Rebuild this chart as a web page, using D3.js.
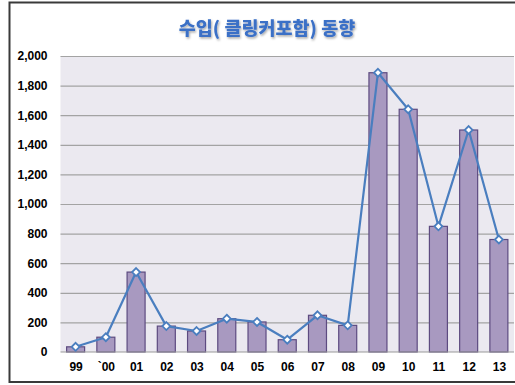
<!DOCTYPE html>
<html>
<head>
<meta charset="utf-8">
<script src="https://cdn.jsdelivr.net/npm/d3@7"></script>
<style>
  html, body { margin: 0; padding: 0; background: #fff; }
  svg { display: block; }
</style>
</head>
<body>
<svg id="chart" width="515" height="385"></svg>
<script>
// Import volumes by year (clinker included)
const years = ["99", "`00", "01", "02", "03", "04", "05", "06", "07", "08", "09", "10", "11", "12", "13"];
const barValues = [35, 100, 540, 175, 142, 225, 203, 83, 248, 180, 1887, 1640, 849, 1500, 760];
const lineValues = [35, 100, 540, 175, 142, 225, 203, 83, 248, 180, 1887, 1640, 849, 1500, 760];
const yTicks = [0, 200, 400, 600, 800, 1000, 1200, 1400, 1600, 1800, 2000];
const titleText = "수입( 클링커포함) 동향";

const svg = d3.select("#chart");
const plot = { left: 60.5, right: 514, top: 56, bottom: 352 };

// outer frame
svg.append("rect")
  .attr("x", 9.5).attr("y", 2.5)
  .attr("width", 520).attr("height", 379.5)
  .attr("fill", "#fff").attr("stroke", "#3a3a3a").attr("stroke-width", 2);

// title with soft shadow
const defs = svg.append("defs");
const f = defs.append("filter").attr("id", "shadow").attr("x", "-10%").attr("y", "-30%").attr("width", "120%").attr("height", "160%");
f.append("feDropShadow").attr("dx", 1).attr("dy", 1.5).attr("stdDeviation", 1).attr("flood-color", "#000").attr("flood-opacity", 0.35);

svg.append("text")
  .attr("x", 267).attr("y", 35)
  .attr("text-anchor", "middle")
  .attr("font-family", "'Noto Sans CJK KR', sans-serif")
  .attr("font-weight", 900)
  .attr("font-size", 18.5)
  .attr("fill", "#3a6fc6")
  .attr("filter", "url(#shadow)")
  .text(titleText);

const xc = d3.scalePoint().domain(years).range([plot.left, plot.right]).padding(0.5);
const y = d3.scaleLinear().domain([0, 2000]).range([plot.bottom, plot.top]);

// plot background
svg.append("rect")
  .attr("x", plot.left).attr("y", plot.top)
  .attr("width", plot.right - plot.left).attr("height", plot.bottom - plot.top)
  .attr("fill", "#ebe9f0");

// gridlines
svg.append("g")
  .attr("transform", `translate(${plot.left},0)`)
  .call(d3.axisLeft(y).tickValues(yTicks.filter(t => t > 0)).tickSize(-(plot.right - plot.left)).tickFormat(""))
  .call(g => g.select(".domain").remove())
  .call(g => g.selectAll("line").attr("stroke", "#a3a3a3").attr("stroke-width", 1.2));

// y axis labels
svg.append("g")
  .attr("transform", `translate(${plot.left},0)`)
  .call(d3.axisLeft(y).tickValues(yTicks).tickSize(0).tickPadding(13).tickFormat(d3.format(",")))
  .call(g => g.select(".domain").remove())
  .call(g => g.selectAll("text")
    .attr("font-family", "'Liberation Sans', Arial, sans-serif")
    .attr("font-weight", "bold")
    .attr("font-size", 12)
    .attr("fill", "#000"));

// bars
svg.append("g").selectAll("rect")
  .data(barValues)
  .join("rect")
  .attr("x", (d, i) => xc(years[i]) - 9)
  .attr("y", d => y(d))
  .attr("width", 18)
  .attr("height", d => y(0) - y(d))
  .attr("fill", "#a899c0")
  .attr("stroke", "#5d4b80")
  .attr("stroke-width", 1.2);

// baseline
svg.append("line")
  .attr("x1", plot.left).attr("x2", plot.right)
  .attr("y1", plot.bottom).attr("y2", plot.bottom)
  .attr("stroke", "#9a9a9a").attr("stroke-width", 1.2);

// x axis labels
svg.append("g")
  .attr("transform", `translate(0,${plot.bottom})`)
  .call(d3.axisBottom(xc).tickSize(0).tickPadding(10))
  .call(g => g.select(".domain").remove())
  .call(g => g.selectAll("text")
    .attr("font-family", "'Liberation Sans', Arial, sans-serif")
    .attr("font-weight", "bold")
    .attr("font-size", 12)
    .attr("fill", "#000"));

// line series
const line = d3.line().x((d, i) => xc(years[i])).y(d => y(d));
svg.append("path")
  .datum(lineValues)
  .attr("d", line)
  .attr("fill", "none")
  .attr("stroke", "#4a7ebf")
  .attr("stroke-width", 2.2)
  .attr("stroke-linejoin", "round");

// diamond markers
const diamond = d3.symbol().type(d3.symbolDiamond2).size(40);
svg.append("g").selectAll("path")
  .data(lineValues)
  .join("path")
  .attr("transform", (d, i) => `translate(${xc(years[i])},${y(d)})`)
  .attr("d", diamond)
  .attr("fill", "#fff")
  .attr("stroke", "#4a7ebf")
  .attr("stroke-width", 1.8);
</script>
</body>
</html>
